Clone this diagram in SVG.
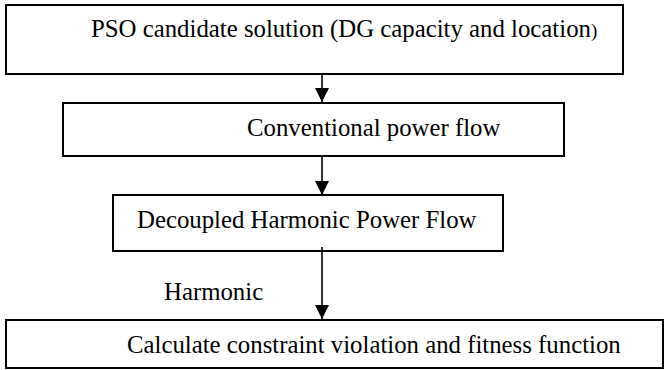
<svg xmlns="http://www.w3.org/2000/svg" width="666" height="370" viewBox="0 0 666 370">
<style>
.box{fill:#fff;stroke:#000;stroke-width:2}
.lbl{font-family:"Liberation Serif","Times New Roman",serif;font-size:24.8px;fill:#000}
.conn{stroke:#000;stroke-width:1.6;fill:none}
</style>
<defs>
<marker id="ah" markerUnits="userSpaceOnUse" markerWidth="14" markerHeight="14" refX="14" refY="7" orient="auto">
<path d="M0,0 L14,7 L0,14 Z" fill="#000"/>
</marker>
</defs>
<rect width="666" height="370" fill="#fff"/>
<g id="node-pso">
<rect class="box" x="6" y="5" width="617" height="69"/>
<text class="lbl" x="91" y="37">PSO candidate solution (DG capacity and location<tspan font-size="19">)</tspan></text>
</g>
<g id="node-conv">
<rect class="box" x="63" y="103" width="501" height="53"/>
<text class="lbl" x="247" y="136">Conventional power flow</text>
</g>
<g id="node-dhpf">
<rect class="box" x="113" y="195" width="390" height="56"/>
<text class="lbl" x="137" y="228">Decoupled Harmonic Power Flow</text>
</g>
<g id="node-calc">
<rect class="box" x="6" y="320" width="657" height="48"/>
<text class="lbl" x="127" y="353">Calculate constraint violation and fitness function</text>
</g>
<g id="connectors">
<line class="conn" x1="322" y1="74" x2="322" y2="102" marker-end="url(#ah)"/>
<line class="conn" x1="322" y1="156" x2="322" y2="195" marker-end="url(#ah)"/>
<line class="conn" x1="322" y1="247" x2="322" y2="319" marker-end="url(#ah)"/>
<text class="lbl" x="164" y="300">Harmonic</text>
</g>
</svg>
